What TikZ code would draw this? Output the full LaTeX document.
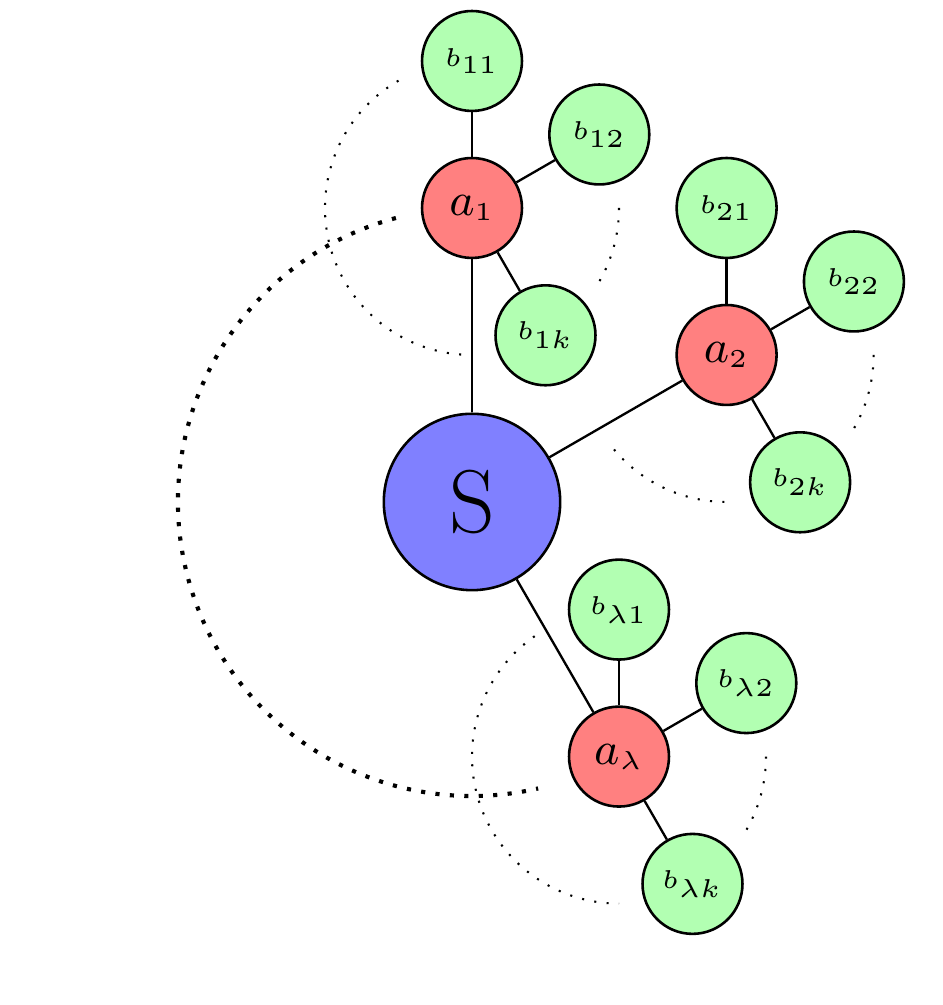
\documentclass[tikz,border=0pt]{standalone}
\usetikzlibrary{calc}
\DeclareMathSizes{9}{9}{5.5}{5}
\DeclareMathSizes{4.9}{4.9}{4.4}{4.4}
\tikzset{
  snode/.style={circle, draw, line width=0.5pt, fill=blue!50, minimum size=1.2cm, inner sep=0pt, font=\fontsize{17.28}{20}\selectfont},
  anode/.style={circle, draw, line width=0.5pt, fill=red!50, minimum size=0.68cm, inner sep=0pt, font=\fontsize{9}{11}\selectfont},
  bnode/.style={circle, draw, line width=0.5pt, fill=green!30, minimum size=0.68cm, inner sep=0pt, font=\fontsize{4.9}{6}\selectfont},
  link/.style={draw, line width=0.45pt},
  thindots/.style={dotted},
  thickdots/.style={dotted, thick},
}
\begin{document}
\begin{tikzpicture}
\useasboundingbox (-3.211,-3.422) rectangle (3.204,3.415);
% central node and first level
\node[snode] (S) at (0,0) {S};
\node[anode] (a1) at (90:2) {$a_1$};
\node[anode] (a2) at (30:2) {$a_2$};
\node[anode] (al) at (-60:2) {$a_\lambda$};
% second level
\node[bnode] (b11) at ($(a1)+(90:1)$) {$b_{11}$};
\node[bnode] (b12) at ($(a1)+(30:1)$) {$b_{12}$};
\node[bnode] (b1k) at ($(a1)+(-60:1)$) {$b_{1k}$};
\node[bnode] (b21) at ($(a2)+(90:1)$) {$b_{21}$};
\node[bnode] (b22) at ($(a2)+(30:1)$) {$b_{22}$};
\node[bnode] (b2k) at ($(a2)+(-60:1)$) {$b_{2k}$};
\node[bnode] (bl1) at ($(al)+(90:1)$) {$b_{\lambda 1}$};
\node[bnode] (bl2) at ($(al)+(30:1)$) {$b_{\lambda 2}$};
\node[bnode] (blk) at ($(al)+(-60:1)$) {$b_{\lambda k}$};
% connectors
\draw[link] (S) -- (a1);
\draw[link] (S) -- (a2);
\draw[link] (S) -- (al);
\draw[link] (a1) -- (b11);
\draw[link] (a1) -- (b12);
\draw[link] (a1) -- (b1k);
\draw[link] (a2) -- (b21);
\draw[link] (a2) -- (b22);
\draw[link] (a2) -- (b2k);
\draw[link] (al) -- (bl1);
\draw[link] (al) -- (bl2);
\draw[link] (al) -- (blk);
% dotted arcs
\draw[thindots] (a1.center) ++(120:1) arc (120:266:1);
\draw[thindots] (a1.center) ++(0:1) arc (0:-30:1);
\draw[thindots] (a2.center) ++(220:1) arc (220:270:1);
\draw[thindots] (a2.center) ++(0:1) arc (0:-30:1);
\draw[thindots] (al.center) ++(125:1) arc (125:270:1);
\draw[thindots] (al.center) ++(0:1) arc (0:-30:1);
\draw[thickdots] (S.center) ++(105:2) arc (105:283:2);
\end{tikzpicture}
\end{document}
